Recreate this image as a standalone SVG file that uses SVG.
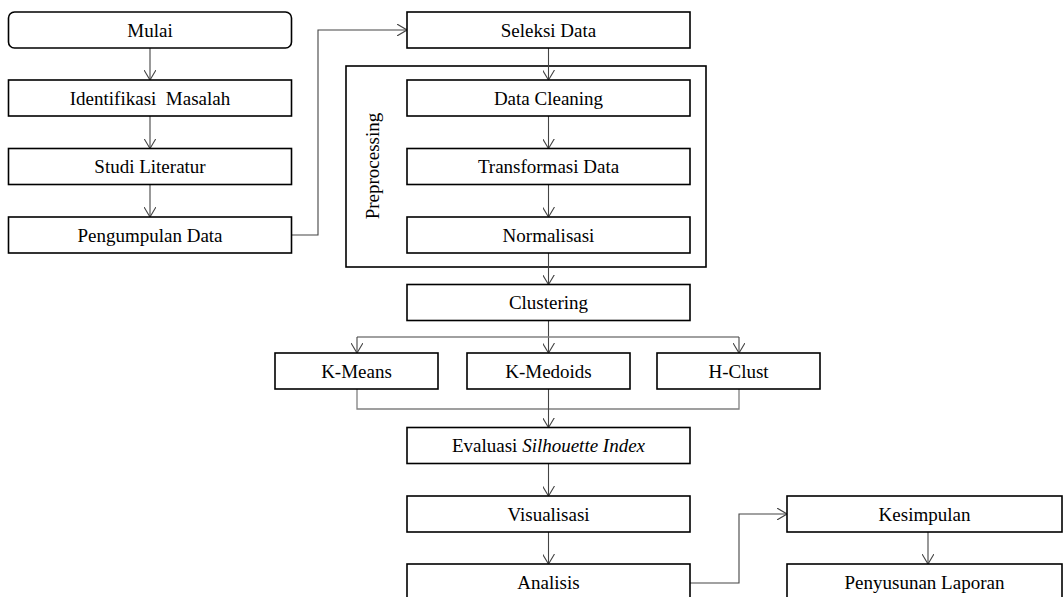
<svg xmlns="http://www.w3.org/2000/svg" width="1064" height="597" viewBox="0 0 1064 597">
  <style>
    .box { fill: #ffffff; stroke: #000000; stroke-width: 1.6; }
    .frame { fill: none; stroke: #000000; stroke-width: 1.6; }
    .lbl { font-family: "Liberation Serif", "Times New Roman", serif; font-size: 19px; fill: #000000; text-anchor: middle; }
    .link { fill: none; stroke: #444444; stroke-width: 1.1; }
    .branch { fill: none; stroke: #808080; stroke-width: 1.3; }
  </style>
  <defs>
    <marker id="arrow" viewBox="0 0 10 12" refX="10" refY="6" markerWidth="10" markerHeight="12" markerUnits="userSpaceOnUse" orient="auto">
      <path d="M0,0 L10,6 L0,12" fill="none" stroke="#444444" stroke-width="1.1"/>
    </marker>
  </defs>
  <rect width="1064" height="597" fill="#ffffff"/>

  <!-- preprocessing frame -->
  <g id="preprocessing">
    <rect class="frame" x="346" y="66" width="360" height="201"/>
    <text class="lbl" transform="translate(379,166) rotate(-90)">Preprocessing</text>
  </g>

  <!-- connectors -->
  <g id="connectors">
    <path class="link" d="M150,48 V80" marker-end="url(#arrow)"/>
    <path class="link" d="M150,116 V148.5" marker-end="url(#arrow)"/>
    <path class="link" d="M150,184.5 V217" marker-end="url(#arrow)"/>
    <path class="link" d="M291.5,235 H318 V30 H407" marker-end="url(#arrow)"/>
    <path class="link" d="M548.5,48 V80" marker-end="url(#arrow)"/>
    <path class="link" d="M548.5,116 V148.5" marker-end="url(#arrow)"/>
    <path class="link" d="M548.5,184.5 V217" marker-end="url(#arrow)"/>
    <path class="link" d="M548.5,253 V284.5" marker-end="url(#arrow)"/>
    <path class="link" d="M548.5,320.5 V353" marker-end="url(#arrow)"/>
    <path class="branch" d="M357,337 H739"/>
    <path class="link" d="M357,337 V353" marker-end="url(#arrow)"/>
    <path class="link" d="M739,337 V353" marker-end="url(#arrow)"/>
    <path class="branch" d="M357,389 V409 H739 V389"/>
    <path class="link" d="M548.5,389 V427.5" marker-end="url(#arrow)"/>
    <path class="link" d="M548.5,463.5 V496" marker-end="url(#arrow)"/>
    <path class="link" d="M548.5,532 V564" marker-end="url(#arrow)"/>
    <path class="link" d="M690,583 H739 V514 H787" marker-end="url(#arrow)"/>
    <path class="link" d="M928,532 V564" marker-end="url(#arrow)"/>
  </g>

  <!-- left column -->
  <g id="mulai">
    <rect class="box" x="8.5" y="12" width="283" height="36" rx="6"/>
    <text class="lbl" x="150" y="36.5">Mulai</text>
  </g>
  <g id="identifikasi-masalah">
    <rect class="box" x="8.5" y="80" width="283" height="36"/>
    <text class="lbl" x="150" y="104.5" xml:space="preserve">Identifikasi  Masalah</text>
  </g>
  <g id="studi-literatur">
    <rect class="box" x="8.5" y="148.5" width="283" height="36"/>
    <text class="lbl" x="150" y="173">Studi Literatur</text>
  </g>
  <g id="pengumpulan-data">
    <rect class="box" x="8.5" y="217" width="283" height="36"/>
    <text class="lbl" x="150" y="241.5">Pengumpulan Data</text>
  </g>

  <!-- middle column -->
  <g id="seleksi-data">
    <rect class="box" x="407" y="12" width="283" height="36"/>
    <text class="lbl" x="548.5" y="36.5">Seleksi Data</text>
  </g>
  <g id="data-cleaning">
    <rect class="box" x="407" y="80" width="283" height="36"/>
    <text class="lbl" x="548.5" y="104.5">Data Cleaning</text>
  </g>
  <g id="transformasi-data">
    <rect class="box" x="407" y="148.5" width="283" height="36"/>
    <text class="lbl" x="548.5" y="173">Transformasi Data</text>
  </g>
  <g id="normalisasi">
    <rect class="box" x="407" y="217" width="283" height="36"/>
    <text class="lbl" x="548.5" y="241.5">Normalisasi</text>
  </g>
  <g id="clustering">
    <rect class="box" x="407" y="284.5" width="283" height="36"/>
    <text class="lbl" x="548.5" y="309">Clustering</text>
  </g>
  <g id="k-means">
    <rect class="box" x="275" y="353" width="163" height="36"/>
    <text class="lbl" x="356.5" y="377.5">K-Means</text>
  </g>
  <g id="k-medoids">
    <rect class="box" x="467" y="353" width="163" height="36"/>
    <text class="lbl" x="548.5" y="377.5">K-Medoids</text>
  </g>
  <g id="h-clust">
    <rect class="box" x="657" y="353" width="163" height="36"/>
    <text class="lbl" x="738.5" y="377.5">H-Clust</text>
  </g>
  <g id="evaluasi">
    <rect class="box" x="407" y="427.5" width="283" height="36"/>
    <text class="lbl" x="548.5" y="452">Evaluasi <tspan font-style="italic">Silhouette Index</tspan></text>
  </g>
  <g id="visualisasi">
    <rect class="box" x="407" y="496" width="283" height="36"/>
    <text class="lbl" x="548.5" y="520.5">Visualisasi</text>
  </g>
  <g id="analisis">
    <rect class="box" x="407" y="564" width="283" height="40"/>
    <text class="lbl" x="548.5" y="589">Analisis</text>
  </g>

  <!-- right column -->
  <g id="kesimpulan">
    <rect class="box" x="787" y="496" width="275" height="36"/>
    <text class="lbl" x="924.5" y="520.5">Kesimpulan</text>
  </g>
  <g id="penyusunan-laporan">
    <rect class="box" x="787" y="564" width="275" height="40"/>
    <text class="lbl" x="924.5" y="589">Penyusunan Laporan</text>
  </g>
</svg>
